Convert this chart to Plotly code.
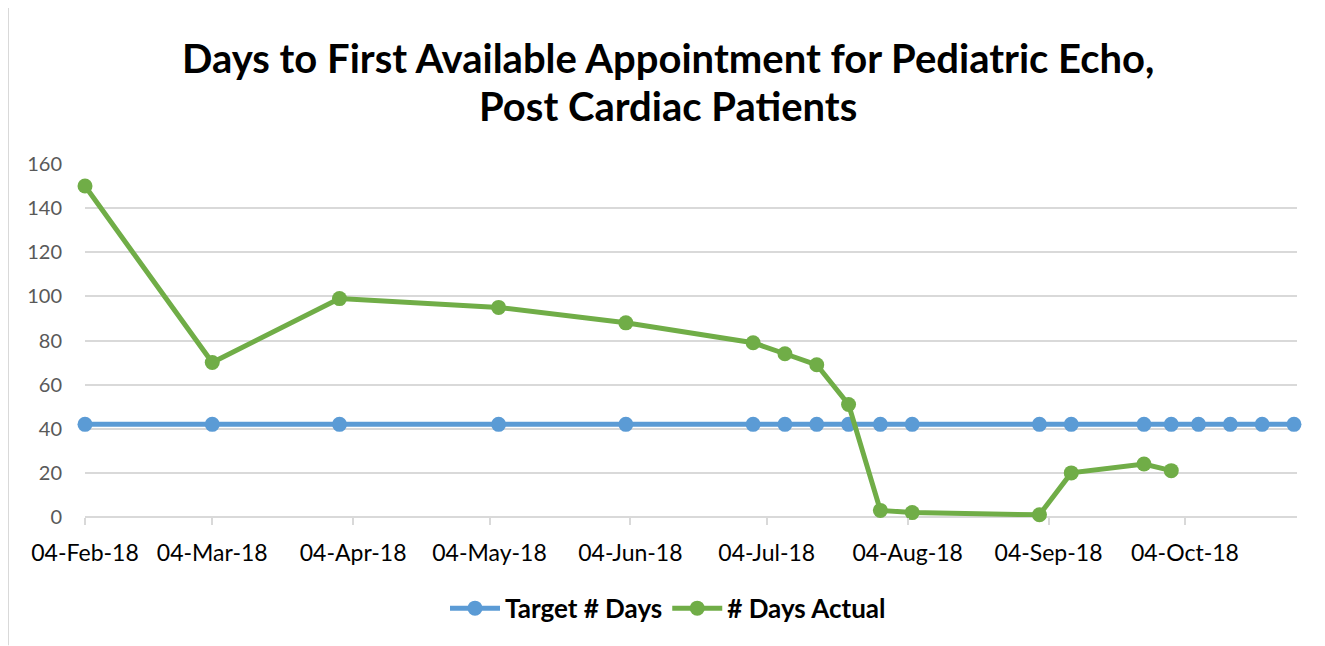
import plotly.graph_objects as go

# ---- data ----
target_dates = ["2018-02-04", "2018-03-04", "2018-04-01", "2018-05-06", "2018-06-03",
                "2018-07-01", "2018-07-08", "2018-07-15", "2018-07-22", "2018-07-29",
                "2018-08-05", "2018-09-02", "2018-09-09", "2018-09-25", "2018-10-01",
                "2018-10-07", "2018-10-14", "2018-10-21", "2018-10-28"]
target_days = [42] * len(target_dates)

actual_dates = ["2018-02-04", "2018-03-04", "2018-04-01", "2018-05-06", "2018-06-03",
                "2018-07-01", "2018-07-08", "2018-07-15", "2018-07-22", "2018-07-29",
                "2018-08-05", "2018-09-02", "2018-09-09", "2018-09-25", "2018-10-01"]
actual_days = [150, 70, 99, 95, 88, 79, 74, 69, 51, 3, 2, 1, 20, 24, 21]

tick_dates = ["2018-02-04", "2018-03-04", "2018-04-04", "2018-05-04", "2018-06-04",
              "2018-07-04", "2018-08-04", "2018-09-04", "2018-10-04"]
tick_labels = ["04-Feb-18", "04-Mar-18", "04-Apr-18", "04-May-18", "04-Jun-18",
               "04-Jul-18", "04-Aug-18", "04-Sep-18", "04-Oct-18"]

title_line1 = "Days to First Available Appointment for Pediatric Echo,"
title_line2 = "Post Cardiac Patients"

BLUE = "#5b9bd5"
GREEN = "#70ad47"
GRID = "#d9d9d9"
TXT = "#595959"
FONT = "Lato"

fig = go.Figure()
fig.add_trace(go.Scatter(x=target_dates, y=target_days, name="Target # Days",
                         mode="lines+markers", cliponaxis=False,
                         line=dict(color=BLUE, width=5),
                         marker=dict(color=BLUE, size=15)))
fig.add_trace(go.Scatter(x=actual_dates, y=actual_days, name="# Days Actual",
                         mode="lines+markers", cliponaxis=False,
                         line=dict(color=GREEN, width=5),
                         marker=dict(color=GREEN, size=15)))

# page offset of the plot div (browser default body margin)
OFF = 8
W, H = 1325 - OFF, 646 - OFF
L, R = 85 - OFF, W - (1297 - OFF)
T, B = 163.5 - OFF, H - (517.5 - OFF)
pw, ph = W - L - R, H - T - B

def px_x(px):
    return (px - OFF - L) / pw

def px_y(py):
    return (H - B - (py - OFF)) / ph

fig.update_layout(
    width=W, height=H,
    margin=dict(l=L, r=R, t=T, b=B, pad=0),
    paper_bgcolor="white", plot_bgcolor="white",
    font=dict(family=FONT, color=TXT, size=20),
    showlegend=True,
    legend=dict(orientation="h", x=px_x(668), xanchor="center", xref="paper",
                y=px_y(609), yanchor="middle",
                font=dict(family=FONT, size=26, color="black", weight="bold"),
                itemwidth=50, tracegroupgap=0),
    xaxis=dict(type="date", range=["2018-02-04", "2018-10-28 16:00"],
               tickvals=tick_dates, ticktext=tick_labels,
               showgrid=False, showline=False, zeroline=False,
               ticks="outside", ticklen=7, tickcolor=GRID, tickwidth=1.5,
               tickfont=dict(family=FONT, size=23, color="black"),
               ticklabelstandoff=8),
    yaxis=dict(range=[0, 160], dtick=20, tick0=0,
               showgrid=True, gridcolor=GRID, gridwidth=1.5,
               zeroline=True, zerolinecolor=GRID, zerolinewidth=1.5,
               showline=False, ticks="",
               tickfont=dict(family=FONT, size=20, color=TXT),
               ticklabelstandoff=22),
    annotations=[
        dict(text="<b>" + title_line1 + "</b>", xref="paper", yref="paper",
             x=px_x(668), y=px_y(57), xanchor="center", yanchor="middle",
             showarrow=False, font=dict(family=FONT, size=40, color="black")),
        dict(text="<b>" + title_line2 + "</b>", xref="paper", yref="paper",
             x=px_x(668), y=px_y(105), xanchor="center", yanchor="middle",
             showarrow=False, font=dict(family=FONT, size=40, color="black")),
    ],
    shapes=[
        dict(type="line", xref="paper", yref="paper",
             x0=px_x(8), x1=px_x(1325), y0=px_y(6), y1=px_y(6),
             line=dict(color=GRID, width=2)),
        dict(type="line", xref="paper", yref="paper",
             x0=px_x(8), x1=px_x(8), y0=px_y(6), y1=px_y(646),
             line=dict(color=GRID, width=2)),
    ],
)

fig.write_html("out.html")
